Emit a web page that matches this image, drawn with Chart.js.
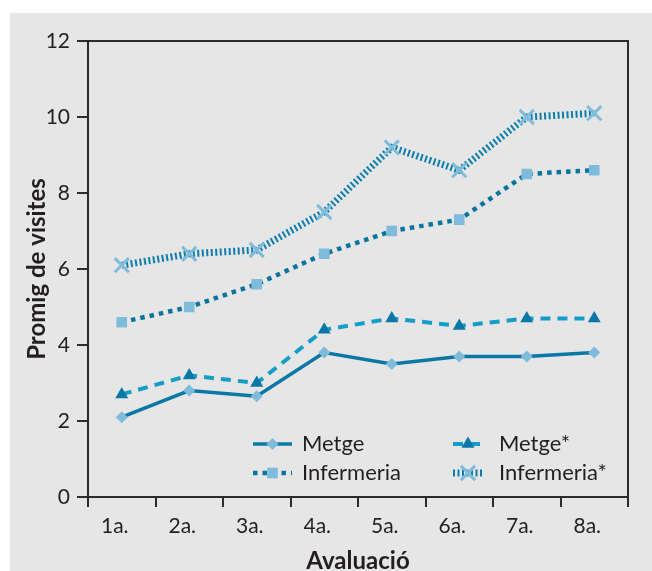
<!DOCTYPE html>
<html>
<head>
<meta charset="utf-8">
<script src="https://cdn.jsdelivr.net/npm/chart.js@4/dist/chart.umd.min.js"></script>
<style>
  html, body { margin: 0; padding: 0; background: #fff; }
  #box { position: absolute; left: 10px; top: 13px; width: 642px; height: 558px; background: #e6e6e6; }
  canvas { display: block; }
</style>
</head>
<body>
<div id="box"><canvas id="c" width="642" height="558"></canvas></div>
<script>
  // valors llegits de la figura
  var avaluacions = ['1a.', '2a.', '3a.', '4a.', '5a.', '6a.', '7a.', '8a.'];
  var metge = [2.1, 2.8, 2.65, 3.8, 3.5, 3.7, 3.7, 3.8];
  var metgeEst = [2.7, 3.2, 3.0, 4.4, 4.7, 4.5, 4.7, 4.7];
  var infermeria = [4.6, 5.0, 5.6, 6.4, 7.0, 7.3, 8.5, 8.6];
  var infermeriaEst = [6.1, 6.4, 6.5, 7.5, 9.2, 8.6, 10.0, 10.1];
  var yTicks = [0, 2, 4, 6, 8, 10, 12];

  var FONT = 'Lato, "Open Sans", sans-serif';
  var INK = '#231f20';
  var AXIS = '#2b2b2b';
  var LIGHT = '#7fbcdc';

  // marc superior i dret de l'àrea del gràfic
  var framePlugin = {
    id: 'frame',
    afterDraw: function (chart) {
      var a = chart.chartArea, ctx = chart.ctx;
      ctx.save();
      ctx.strokeStyle = AXIS;
      ctx.lineWidth = 2;
      ctx.beginPath();
      ctx.moveTo(a.left, a.top);
      ctx.lineTo(a.right, a.top);
      ctx.lineTo(a.right, a.bottom);
      ctx.stroke();
      ctx.restore();
    }
  };

  // llegenda dins l'àrea, dues columnes
  var legendPlugin = {
    id: 'insideLegend',
    afterDatasetsDraw: function (chart) {
      var ctx = chart.ctx;
      var a = chart.chartArea;
      var slots = [
        { x0: a.left + 165, x1: a.left + 204, tx: a.left + 214, y: 431 },
        { x0: a.left + 365, x1: a.left + 395, tx: a.left + 411, y: 431 },
        { x0: a.left + 165, x1: a.left + 204, tx: a.left + 214, y: 460 },
        { x0: a.left + 365, x1: a.left + 395, tx: a.left + 411, y: 460 }
      ];
      chart.data.datasets.forEach(function (ds, i) {
        var s = slots[i];
        ctx.save();
        ctx.strokeStyle = ds.borderColor;
        ctx.lineWidth = ds.borderWidth;
        ctx.setLineDash(ds.borderDash || []);
        ctx.beginPath();
        ctx.moveTo(s.x0, s.y);
        ctx.lineTo(s.x1, s.y);
        ctx.stroke();
        ctx.setLineDash([]);
        ctx.fillStyle = ds.pointBackgroundColor;
        ctx.strokeStyle = ds.pointBorderColor;
        ctx.lineWidth = ds.pointBorderWidth;
        Chart.helpers.drawPoint(ctx, {
          pointStyle: ds.pointStyle,
          radius: ds.pointRadius,
          rotation: 0,
          borderWidth: ds.pointBorderWidth
        }, (s.x0 + s.x1) / 2, s.y);
        ctx.fillStyle = INK;
        ctx.font = '22px ' + FONT;
        ctx.textBaseline = 'middle';
        ctx.textAlign = 'left';
        ctx.fillText(ds.label, s.tx, s.y);
        ctx.restore();
      });
    }
  };

  new Chart(document.getElementById('c'), {
    type: 'line',
    data: {
      labels: avaluacions,
      datasets: [
        {
          label: 'Metge',
          data: metge,
          borderColor: '#0a78a6',
          borderWidth: 3.5,
          borderDash: [],
          pointStyle: 'rectRot',
          pointRadius: 6,
          pointBackgroundColor: LIGHT,
          pointBorderColor: LIGHT,
          pointBorderWidth: 0
        },
        {
          label: 'Metge*',
          data: metgeEst,
          borderColor: '#149dc9',
          borderWidth: 4,
          borderDash: [10, 7],
          pointStyle: 'triangle',
          pointRadius: 7.5,
          pointBackgroundColor: '#0a78a6',
          pointBorderColor: '#0a78a6',
          pointBorderWidth: 0
        },
        {
          label: 'Infermeria',
          data: infermeria,
          borderColor: '#0a74a0',
          borderWidth: 4.5,
          borderDash: [4.5, 5],
          pointStyle: 'rect',
          pointRadius: 7.5,
          pointBackgroundColor: LIGHT,
          pointBorderColor: LIGHT,
          pointBorderWidth: 0
        },
        {
          label: 'Infermeria*',
          data: infermeriaEst,
          borderColor: '#0c7eac',
          borderWidth: 7,
          borderDash: [2, 2.5],
          pointStyle: 'crossRot',
          pointRadius: 10,
          pointBackgroundColor: LIGHT,
          pointBorderColor: LIGHT,
          pointBorderWidth: 3
        }
      ]
    },
    options: {
      responsive: false,
      animation: false,
      devicePixelRatio: 1,
      layout: { padding: { top: 28, right: 24, left: 0, bottom: 0 } },
      plugins: {
        legend: { display: false },
        tooltip: { enabled: false }
      },
      elements: { line: { tension: 0 } },
      scales: {
        x: {
          offset: true,
          grid: { offset: true, drawOnChartArea: false, drawTicks: true, tickLength: 10, color: AXIS, lineWidth: 2 },
          border: { color: AXIS, width: 2 },
          ticks: { color: INK, font: { family: FONT, size: 21 }, padding: 7, labelOffset: -7, maxRotation: 0 },
          title: { display: true, text: 'Avaluació', color: INK, font: { family: FONT, size: 24, weight: 'bold' }, padding: { top: 0, bottom: -5 } },
          afterFit: function (scale) { scale.height = 74; }
        },
        y: {
          min: 0,
          max: 12,
          afterBuildTicks: function (scale) {
            scale.ticks = yTicks.map(function (v) { return { value: v }; });
          },
          grid: { drawOnChartArea: false, drawTicks: true, tickLength: 11, color: AXIS, lineWidth: 2 },
          border: { color: AXIS, width: 2 },
          ticks: { color: INK, font: { family: FONT, size: 21 }, padding: 7 },
          title: { display: true, text: 'Promig de visites', color: INK, font: { family: FONT, size: 24, weight: 'bold' }, padding: { top: 13, bottom: 0 } },
          afterFit: function (scale) { scale.width = 78; }
        }
      }
    },
    plugins: [framePlugin, legendPlugin]
  });
</script>
</body>
</html>
